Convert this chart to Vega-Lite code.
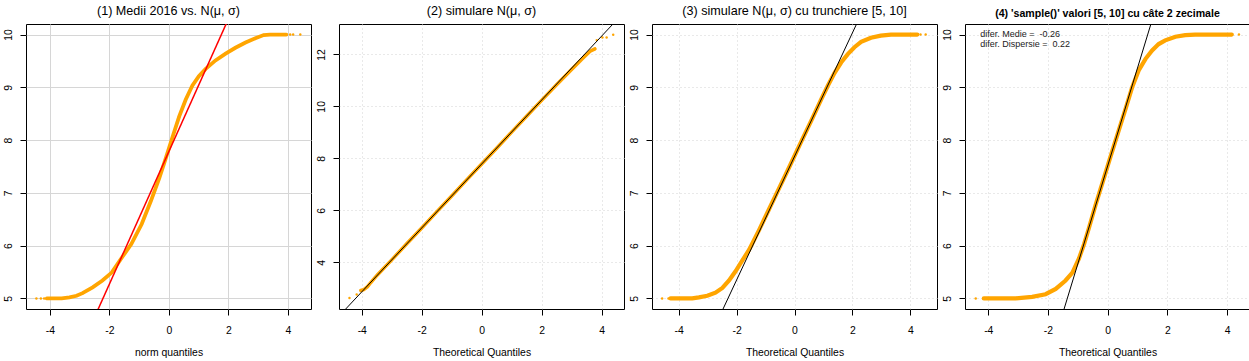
{
  "$schema": "https://vega.github.io/schema/vega-lite/v6.json",
  "padding": {"left": 0, "top": 4, "right": 0, "bottom": 0},
  "autosize": {"type": "pad"},
  "background": "white",
  "spacing": 28,
  "bounds": "flush",
  "config": {
    "font": "Liberation Sans",
    "view": {"stroke": "black", "strokeWidth": 1, "fill": "white"},
    "axis": {
      "domain": false,
      "tickColor": "black",
      "tickSize": 6,
      "tickWidth": 1,
      "labelColor": "black",
      "labelFont": "Liberation Sans",
      "labelFontSize": 10.4,
      "titleFont": "Liberation Sans",
      "titleFontSize": 10.4,
      "titleFontWeight": "normal",
      "titleColor": "black",
      "grid": true,
      "gridColor": "#d3d3d3",
      "gridWidth": 1,
      "gridDash": [1, 3],
      "labelOverlap": false,
      "labelFlush": false,
      "labelExpr": "toString(datum.value)"
    },
    "axisX": {"labelBaseline": "alphabetic", "labelPadding": 18, "titleBaseline": "alphabetic", "titleY": 46.7},
    "axisY": {"labelAngle": 270, "labelAlign": "center", "labelBaseline": "alphabetic", "labelPadding": 9, "minExtent": 25, "maxExtent": 25},
    "title": {"font": "Liberation Sans", "fontSize": 12.6, "fontWeight": "normal", "color": "black", "baseline": "alphabetic", "offset": 6, "anchor": "middle"}
  },
  "datasets": {
    "p1": [
      {"x": -4.45, "y": 5.0}, {"x": -4.3, "y": 5.0}, {"x": -4.19, "y": 5.0}, {"x": -4.1, "y": 5.0}, {"x": -4.0, "y": 5.0},
      {"x": -3.8, "y": 5.0}, {"x": -3.6, "y": 5.0}, {"x": -3.34, "y": 5.02}, {"x": -3.1, "y": 5.05}, {"x": -2.9, "y": 5.1},
      {"x": -2.56, "y": 5.21}, {"x": -2.23, "y": 5.34}, {"x": -1.92, "y": 5.49}, {"x": -1.57, "y": 5.78}, {"x": -1.26, "y": 6.03},
      {"x": -0.91, "y": 6.41}, {"x": -0.6, "y": 6.85}, {"x": -0.32, "y": 7.28}, {"x": -0.1, "y": 7.66}, {"x": 0.12, "y": 8.05},
      {"x": 0.35, "y": 8.45}, {"x": 0.57, "y": 8.77}, {"x": 0.79, "y": 9.03}, {"x": 1.01, "y": 9.21}, {"x": 1.24, "y": 9.35},
      {"x": 1.57, "y": 9.51}, {"x": 1.91, "y": 9.64}, {"x": 2.24, "y": 9.75}, {"x": 2.58, "y": 9.85}, {"x": 2.91, "y": 9.93},
      {"x": 3.19, "y": 9.99}, {"x": 3.4, "y": 10.0}, {"x": 3.7, "y": 10.0}, {"x": 3.95, "y": 10.0}, {"x": 4.08, "y": 10.0},
      {"x": 4.18, "y": 10.0}, {"x": 4.42, "y": 10.0}
    ],
    "p2": [
      {"x": -4.41, "y": 2.62}, {"x": -4.17, "y": 2.76}, {"x": -4.03, "y": 2.91}, {"x": -3.94, "y": 2.94}, {"x": -3.81, "y": 3.06},
      {"x": -3.7, "y": 3.22}, {"x": -3.48, "y": 3.51}, {"x": -3.0, "y": 4.09}, {"x": -2.5, "y": 4.71}, {"x": -2.0, "y": 5.32},
      {"x": -1.5, "y": 5.94}, {"x": -1.0, "y": 6.55}, {"x": -0.5, "y": 7.17}, {"x": 0.0, "y": 7.78}, {"x": 0.5, "y": 8.39},
      {"x": 1.0, "y": 9.01}, {"x": 1.5, "y": 9.62}, {"x": 2.0, "y": 10.23}, {"x": 2.5, "y": 10.83}, {"x": 3.0, "y": 11.42},
      {"x": 3.4, "y": 11.88}, {"x": 3.62, "y": 12.12}, {"x": 3.78, "y": 12.21}, {"x": 3.84, "y": 12.55}, {"x": 4.03, "y": 12.65},
      {"x": 4.17, "y": 12.65}, {"x": 4.39, "y": 12.76}
    ],
    "p3": [
      {"x": -4.57, "y": 5.0}, {"x": -4.35, "y": 5.0}, {"x": -4.28, "y": 5.0}, {"x": -4.15, "y": 5.0}, {"x": -4.0, "y": 5.0},
      {"x": -3.8, "y": 5.0}, {"x": -3.53, "y": 5.0}, {"x": -3.3, "y": 5.02}, {"x": -3.01, "y": 5.05}, {"x": -2.73, "y": 5.11},
      {"x": -2.49, "y": 5.2}, {"x": -2.26, "y": 5.34}, {"x": -2.03, "y": 5.52}, {"x": -1.8, "y": 5.72}, {"x": -1.57, "y": 5.92},
      {"x": -1.22, "y": 6.3}, {"x": -0.88, "y": 6.69}, {"x": -0.53, "y": 7.09}, {"x": -0.18, "y": 7.49}, {"x": 0.24, "y": 7.98},
      {"x": 0.58, "y": 8.37}, {"x": 0.93, "y": 8.78}, {"x": 1.15, "y": 9.03}, {"x": 1.38, "y": 9.27}, {"x": 1.61, "y": 9.47},
      {"x": 1.84, "y": 9.63}, {"x": 2.07, "y": 9.76}, {"x": 2.3, "y": 9.86}, {"x": 2.64, "y": 9.94}, {"x": 2.98, "y": 9.98},
      {"x": 3.33, "y": 10.0}, {"x": 3.7, "y": 10.0}, {"x": 4.0, "y": 10.0}, {"x": 4.24, "y": 10.0}, {"x": 4.35, "y": 10.0},
      {"x": 4.53, "y": 10.0}
    ],
    "p4": [
      {"x": -4.42, "y": 5.0}, {"x": -4.15, "y": 5.0}, {"x": -4.0, "y": 5.0}, {"x": -3.8, "y": 5.0}, {"x": -3.5, "y": 5.0},
      {"x": -3.08, "y": 5.0}, {"x": -2.53, "y": 5.03}, {"x": -2.08, "y": 5.08}, {"x": -1.74, "y": 5.18}, {"x": -1.41, "y": 5.34},
      {"x": -1.18, "y": 5.49}, {"x": -0.96, "y": 5.76}, {"x": -0.79, "y": 6.03}, {"x": -0.63, "y": 6.33}, {"x": -0.4, "y": 6.78},
      {"x": -0.18, "y": 7.18}, {"x": 0.07, "y": 7.64}, {"x": 0.38, "y": 8.2}, {"x": 0.6, "y": 8.59}, {"x": 0.82, "y": 9.0},
      {"x": 1.04, "y": 9.32}, {"x": 1.27, "y": 9.54}, {"x": 1.49, "y": 9.7}, {"x": 1.71, "y": 9.82}, {"x": 1.93, "y": 9.89},
      {"x": 2.27, "y": 9.96}, {"x": 2.6, "y": 9.99}, {"x": 2.93, "y": 10.0}, {"x": 3.3, "y": 10.0}, {"x": 3.7, "y": 10.0},
      {"x": 4.0, "y": 10.0}, {"x": 4.16, "y": 10.0}, {"x": 4.4, "y": 10.0}
    ],
    "q1": [{"x": -3.0, "y": 4.012}, {"x": 2.5, "y": 10.92}],
    "q2": [{"x": -5.0, "y": 1.63}, {"x": 5.0, "y": 13.93}],
    "q3": [{"x": -3.0, "y": 4.177}, {"x": 2.5, "y": 10.618}],
    "q4": [{"x": -2.0, "y": 3.798}, {"x": 2.0, "y": 11.222}],
    "ann": [
      {"x": -4.27, "y": 10.006, "label": "difer. Medie = \u00a0-0.26"},
      {"x": -4.27, "y": 9.816, "label": "difer. Dispersie = \u00a00.22"}
    ]
  },
  "hconcat": [
    {
      "width": 285, "height": 285,
      "title": {"text": "(1) Medii 2016 vs. N(μ, σ)"},
      "layer": [
        {
          "data": {"name": "p1"},
          "transform": [{"filter": "datum.x >= -4.1 && datum.x <= 3.96"}],
          "mark": {"type": "line", "color": "#FFA500", "strokeWidth": 3.8, "strokeCap": "round", "clip": true},
          "encoding": {
            "x": {"field": "x", "type": "quantitative", "scale": {"domain": [-4.8, 4.78], "nice": false, "zero": false}, "axis": {"values": [-4, -2, 0, 2, 4], "title": "norm quantiles", "gridDash": [], "gridColor": "#d6d6d6"}},
            "y": {"field": "y", "type": "quantitative", "scale": {"domain": [4.8, 10.2], "nice": false, "zero": false}, "axis": {"values": [5, 6, 7, 8, 9, 10], "title": null, "gridDash": [], "gridColor": "#d6d6d6"}}
          }
        },
        {
          "data": {"name": "p1"},
          "mark": {"type": "point", "filled": true, "size": 6, "color": "#FFA500", "opacity": 1, "clip": true},
          "encoding": {"x": {"field": "x", "type": "quantitative"}, "y": {"field": "y", "type": "quantitative"}}
        },
        {
          "data": {"name": "q1"},
          "mark": {"type": "line", "color": "#ff0000", "strokeWidth": 1.5, "clip": true},
          "encoding": {"x": {"field": "x", "type": "quantitative"}, "y": {"field": "y", "type": "quantitative"}}
        }
      ]
    },
    {
      "width": 285, "height": 285,
      "title": {"text": "(2) simulare N(μ, σ)"},
      "layer": [
        {
          "data": {"name": "p2"},
          "transform": [{"filter": "datum.x >= -4.05 && datum.x <= 3.8"}],
          "mark": {"type": "line", "color": "#FFA500", "strokeWidth": 3.5, "strokeCap": "round", "clip": true},
          "encoding": {
            "x": {"field": "x", "type": "quantitative", "scale": {"domain": [-4.76, 4.75], "nice": false, "zero": false}, "axis": {"values": [-4, -2, 0, 2, 4], "title": "Theoretical Quantiles"}},
            "y": {"field": "y", "type": "quantitative", "scale": {"domain": [2.2, 13.17], "nice": false, "zero": false}, "axis": {"values": [4, 6, 8, 10, 12], "title": null}}
          }
        },
        {
          "data": {"name": "p2"},
          "mark": {"type": "point", "filled": true, "size": 6, "color": "#FFA500", "opacity": 1, "clip": true},
          "encoding": {"x": {"field": "x", "type": "quantitative"}, "y": {"field": "y", "type": "quantitative"}}
        },
        {
          "data": {"name": "q2"},
          "mark": {"type": "line", "color": "black", "strokeWidth": 1, "clip": true},
          "encoding": {"x": {"field": "x", "type": "quantitative"}, "y": {"field": "y", "type": "quantitative"}}
        }
      ]
    },
    {
      "width": 285, "height": 285,
      "title": {"text": "(3) simulare N(μ, σ) cu trunchiere [5, 10]"},
      "layer": [
        {
          "data": {"name": "p3"},
          "transform": [{"filter": "datum.x >= -4.3 && datum.x <= 4.3"}],
          "mark": {"type": "line", "color": "#FFA500", "strokeWidth": 4.2, "strokeCap": "round", "clip": true},
          "encoding": {
            "x": {"field": "x", "type": "quantitative", "scale": {"domain": [-4.92, 4.92], "nice": false, "zero": false}, "axis": {"values": [-4, -2, 0, 2, 4], "title": "Theoretical Quantiles"}},
            "y": {"field": "y", "type": "quantitative", "scale": {"domain": [4.8, 10.2], "nice": false, "zero": false}, "axis": {"values": [5, 6, 7, 8, 9, 10], "title": null}}
          }
        },
        {
          "data": {"name": "p3"},
          "mark": {"type": "point", "filled": true, "size": 6, "color": "#FFA500", "opacity": 1, "clip": true},
          "encoding": {"x": {"field": "x", "type": "quantitative"}, "y": {"field": "y", "type": "quantitative"}}
        },
        {
          "data": {"name": "q3"},
          "mark": {"type": "line", "color": "black", "strokeWidth": 1, "clip": true},
          "encoding": {"x": {"field": "x", "type": "quantitative"}, "y": {"field": "y", "type": "quantitative"}}
        }
      ]
    },
    {
      "width": 285, "height": 285,
      "title": {"text": "(4) 'sample()' valori [5, 10] cu câte 2 zecimale", "fontSize": 10.6, "fontWeight": "bold", "offset": 4.3},
      "layer": [
        {
          "data": {"name": "p4"},
          "transform": [{"filter": "datum.x >= -4.16 && datum.x <= 4.17"}],
          "mark": {"type": "line", "color": "#FFA500", "strokeWidth": 4.2, "strokeCap": "round", "clip": true},
          "encoding": {
            "x": {"field": "x", "type": "quantitative", "scale": {"domain": [-4.78, 4.77], "nice": false, "zero": false}, "axis": {"values": [-4, -2, 0, 2, 4], "title": "Theoretical Quantiles"}},
            "y": {"field": "y", "type": "quantitative", "scale": {"domain": [4.8, 10.2], "nice": false, "zero": false}, "axis": {"values": [5, 6, 7, 8, 9, 10], "title": null}}
          }
        },
        {
          "data": {"name": "p4"},
          "mark": {"type": "point", "filled": true, "size": 6, "color": "#FFA500", "opacity": 1, "clip": true},
          "encoding": {"x": {"field": "x", "type": "quantitative"}, "y": {"field": "y", "type": "quantitative"}}
        },
        {
          "data": {"name": "q4"},
          "mark": {"type": "line", "color": "black", "strokeWidth": 1, "clip": true},
          "encoding": {"x": {"field": "x", "type": "quantitative"}, "y": {"field": "y", "type": "quantitative"}}
        },
        {
          "data": {"name": "ann"},
          "mark": {"type": "text", "align": "left", "baseline": "middle", "fontSize": 9, "color": "#222222", "font": "Liberation Sans"},
          "encoding": {"x": {"field": "x", "type": "quantitative"}, "y": {"field": "y", "type": "quantitative"}, "text": {"field": "label"}}
        }
      ]
    }
  ]
}
